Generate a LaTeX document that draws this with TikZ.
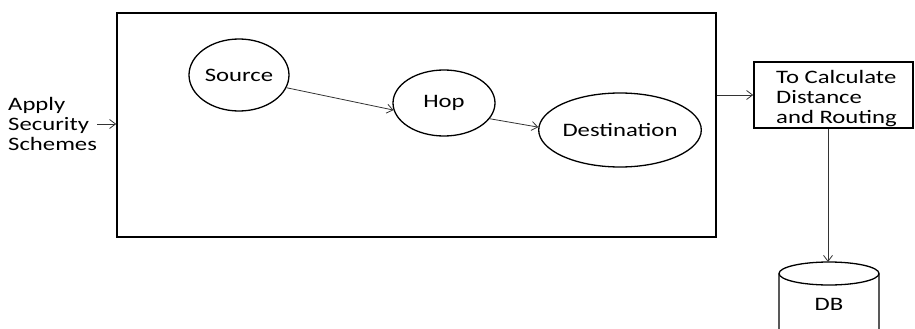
\documentclass[tikz,border=0pt]{standalone}
\usepackage{fontspec}
\setmainfont{Carlito}[FakeStretch=1.3]
\usetikzlibrary{positioning, arrows.meta, shapes.geometric}

\begin{document}
\begin{tikzpicture}[
  x=1pt, y=-1pt,
  every node/.style={font=\fontsize{19}{20}\selectfont},
  frame/.style={
    draw=black,
    line width=1.6pt,
    inner sep=0pt
  },
  hostnode/.style={
    ellipse,
    draw=black,
    line width=1.3pt,
    inner sep=0pt
  },
  plain/.style={
    align=left,
    inner sep=0pt
  },
  dbline/.style={
    draw=black,
    line width=1.3pt
  },
  link/.style={
    draw=black!80,
    line width=0.8pt,
    -{Straight Barb[length=6pt,width=9pt]}
  }
]

\useasboundingbox (0,0) rectangle (915,329);

% main block
\node[frame, minimum width=599pt, minimum height=224pt] (net) at (416.5,125) {};

\node[plain, anchor=west] (apply) at (8,124) {Apply\\Security\\Schemes};

\node[hostnode, minimum width=100pt, minimum height=72pt] (src) at (239,75) {Source};
\node[hostnode, minimum width=102pt, minimum height=66pt] (hop) at (444,103) {Hop};
\node[hostnode, minimum width=140pt, minimum height=74pt] (dst) at (620,130) {Destination};

% right side
\node[frame, minimum width=159pt, minimum height=66pt] (calc) at (833.5,95) {};
\node[plain, anchor=west] (calctxt) at (776,99) {To Calculate\\Distance\\and Routing};

% database
\coordinate (dbtop) at (828,262);
\draw[dbline] (829,273.5) ellipse [x radius=50, y radius=11.5];
\draw[dbline] (779,273.5) -- (779,345) arc[start angle=180, end angle=0, x radius=50, y radius=11.5] -- (879,273.5);
\node[plain] (dbtxt) at (829,304) {DB};

\draw[link] (apply.east) -- (net.west |- apply.east);
\draw[link] (src.-15) -- (hop.188);
\draw[link] (hop.-19) -- (dst.178);
\draw[link] (net.east |- calc.west) -- (calc.west);
\draw[link] (calc.south -| dbtop) -- (dbtop);

\end{tikzpicture}
\end{document}
